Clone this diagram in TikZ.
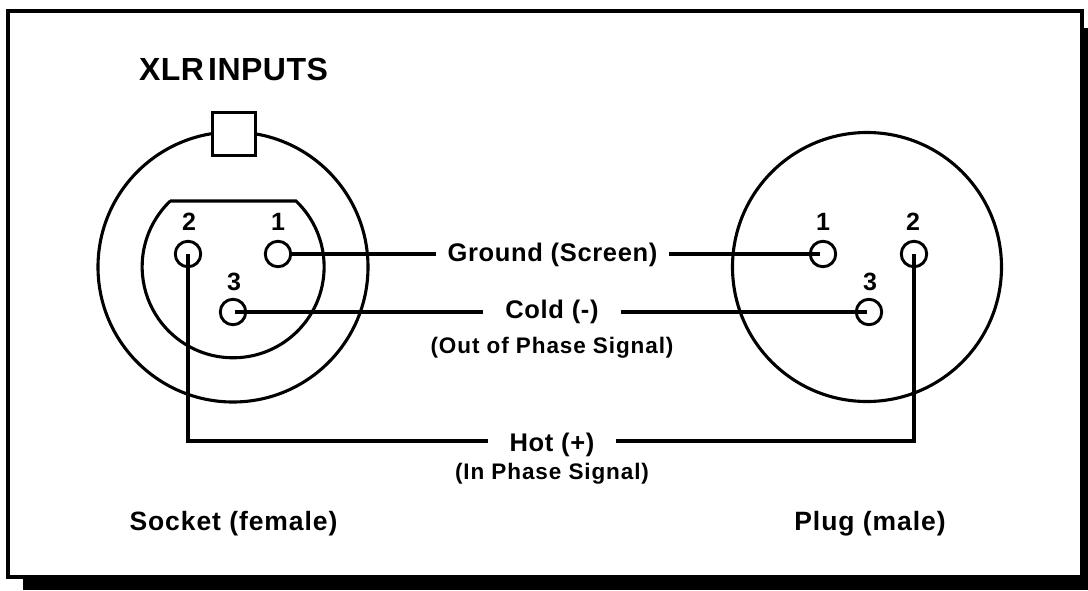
\documentclass[tikz,border=0pt]{standalone}
\usepackage{fontspec}
\setmainfont{Liberation Sans}
\begin{document}
\begin{tikzpicture}[x=1pt,y=-1pt,
  line join=miter,
  ring/.style={draw=black,line width=3.1pt},
  wire/.style={draw=black,line width=3.7pt},
  pin/.style={circle,draw=black,line width=2.9pt,minimum size=25.5pt,inner sep=0pt,outer sep=0pt},
  pinnum/.style={font=\bfseries\fontsize{25}{25}\selectfont,inner sep=0pt,anchor=base},
  mainlab/.style={font=\bfseries\fontsize{25.5}{26}\selectfont\addfontfeature{LetterSpace=2.6},inner ysep=0pt,outer sep=0pt,anchor=base},
  sublab/.style={font=\bfseries\fontsize{22.5}{23}\selectfont\addfontfeature{LetterSpace=4},inner sep=0pt,anchor=base},
  caplab/.style={font=\bfseries\fontsize{26.5}{27}\selectfont\addfontfeature{LetterSpace=3.5},inner sep=0pt,anchor=base}]
\useasboundingbox (0,0) rectangle (1088,590);
\fill[white] (0,0) rectangle (1088,590);
% shadow and frame
\fill[black] (23,28) rectangle (1088,590);
\draw[black,line width=4pt,fill=white] (8,11) rectangle (1082,577);
% left connector
\draw[ring] (233,267) circle (135);
\draw[ring] (170,201) -- (296,201) arc[start angle=-46.3,end angle=226.3,radius=91] -- cycle;
\node[draw=black,fill=white,line width=3pt,minimum size=43pt,inner sep=0pt,outer sep=0pt] (key) at (233.5,133.5) {};
% right connector
\draw[ring] (867,267) circle (134.5);
% pins
\node[pin] (sTwo) at (188,254) {};
\node[pin] (sOne) at (278,254) {};
\node[pin] (sThree) at (233,312) {};
\node[pin] (pOne) at (823,254) {};
\node[pin] (pTwo) at (914,254) {};
\node[pin] (pThree) at (869,312) {};
\node[pinnum] (nA) at (189,230) {2};
\node[pinnum] (nB) at (278,230) {1};
\node[pinnum] (nC) at (234,290) {3};
\node[pinnum] (nD) at (823,230) {1};
\node[pinnum] (nE) at (913,230) {2};
\node[pinnum] (nF) at (870,290) {3};
% labels
\node[font=\bfseries\fontsize{32}{33}\selectfont\addfontfeature{LetterSpace=1.5},inner sep=0pt,anchor=base] (title) at (233.5,80) {XLR\hspace{0.13em}INPUTS};
\node[mainlab,inner xsep=12pt] (ground) at (552.5,261) {Ground (Screen)};
\node[mainlab,inner xsep=22pt] (cold) at (552,318) {Cold (-)};
\node[sublab] (coldsub) at (552,353) {(Out of Phase Signal)};
\node[mainlab,inner xsep=22pt] (hot) at (552,451) {Hot (+)};
\node[sublab] (hotsub) at (552,479) {(In Phase Signal)};
\node[caplab] (socket) at (233.5,530) {Socket (female)};
\node[caplab] (plug) at (870,530) {Plug (male)};
% wires
\coordinate (hotRail) at (552,441);
\draw[wire] ([xshift=13pt]sOne.center) -- (ground.west |- sOne.center);
\draw[wire] (ground.east |- pOne.center) -- ([xshift=-3pt]pOne.center);
\draw[wire] ([xshift=2pt]sThree.center) -- (cold.west |- sThree.center);
\draw[wire] (cold.east |- pThree.center) -- ([xshift=-2pt]pThree.center);
\draw[wire] (sTwo.center) |- (hot.west |- hotRail);
\draw[wire] (hot.east |- hotRail) -| (pTwo.center);
\end{tikzpicture}
\end{document}
